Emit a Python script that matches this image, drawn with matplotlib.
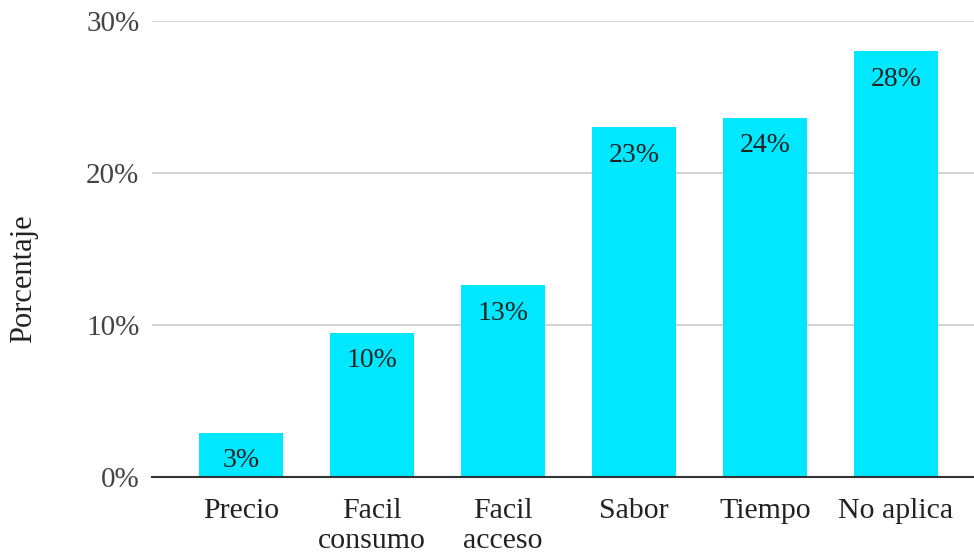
import numpy as np
import matplotlib.pyplot as plt

categorias = ['Precio', 'Facil\nconsumo', 'Facil\nacceso', 'Sabor', 'Tiempo', 'No aplica']
valores = [2.9, 9.5, 12.6, 23.0, 23.6, 28.0]
etiquetas = ['3%', '10%', '13%', '23%', '24%', '28%']
yticks = [0, 10, 20, 30]

plt.rcParams['font.family'] = ['Liberation Serif', 'DejaVu Serif']

fig = plt.figure(figsize=(9.74, 5.52), dpi=100)
ax = fig.add_axes([0.156, 0.136, 0.844, 0.826])

x = np.arange(len(categorias))
bars = ax.bar(x, valores, width=0.64, color='#00E8FF', zorder=2)

for b, lab in zip(bars, etiquetas):
    ax.text(b.get_x() + b.get_width() / 2, b.get_height() - 1.0, lab,
            ha='center', va='top', fontsize=20, color='#222222', zorder=3)

ax.set_xlim(-0.68, 5.595)
ax.set_ylim(0, 30)
ax.set_yticks(yticks)
ax.set_yticklabels([f'{v}%' for v in yticks])
ax.set_xticks(x)
ax.set_xticklabels(categorias, linespacing=1.2)
ax.tick_params(axis='y', length=0, pad=9, labelsize=21, labelcolor='#444444')
ax.tick_params(axis='x', length=0, pad=15, labelsize=21.5, labelcolor='#222222')

ax.yaxis.grid(True, color='#cccccc', linewidth=1.2, zorder=0)
ax.set_axisbelow(True)
for s in ['top', 'right', 'left']:
    ax.spines[s].set_visible(False)
ax.spines['bottom'].set_color('#333333')
ax.spines['bottom'].set_linewidth(1.5)
ax.spines['bottom'].set_zorder(4)

ax.set_ylabel('Porcentaje', fontsize=22, color='#222222')
ax.yaxis.set_label_coords(-0.139, 0.435)

fig.savefig('out.png', dpi=100)
